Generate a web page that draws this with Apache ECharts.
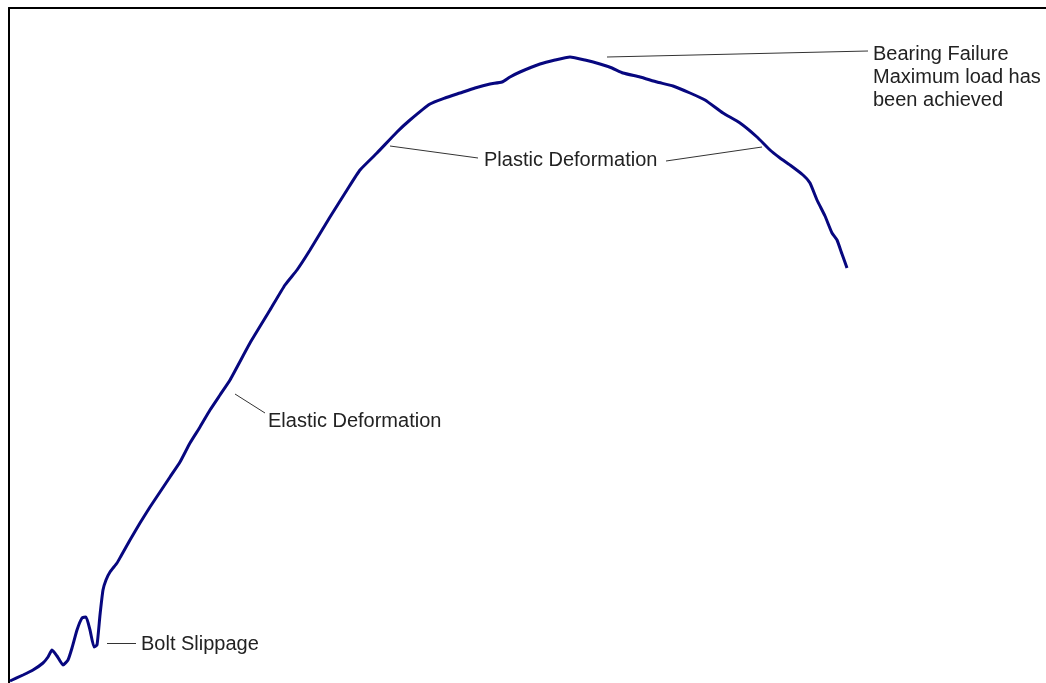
<!DOCTYPE html>
<html>
<head>
<meta charset="utf-8">
<script src="https://cdn.jsdelivr.net/npm/echarts@6/dist/echarts.min.js"></script>
<style>
  html, body { margin: 0; padding: 0; background: #fff; }
  #main { width: 1046px; height: 683px; }
</style>
</head>
<body>
<div id="main"></div>
<script>
// load / deformation trace (arbitrary units)
var deformation = [1, 14, 24, 34, 39, 43, 48, 54, 59, 63, 68, 73, 77, 81, 85, 88, 91, 94, 97, 101,
    108, 112, 121, 131, 141, 151, 161, 171, 181, 191, 201, 211, 221, 241, 261, 276, 288, 301, 321, 338,
    351, 368, 388, 401, 421, 436, 451, 466, 481, 493, 501, 511, 531, 546, 561, 576, 591, 603, 614, 631,
    648, 664, 681, 696, 714, 731, 748, 761, 771, 781, 794, 801, 808, 816, 823, 828, 833, 838]
var load = [2, 8, 13, 20, 26, 33, 27, 18, 23, 35, 53, 65, 66, 53, 36, 38, 68, 93, 103, 111,
    120, 127, 143, 160, 176, 191, 206, 221, 240, 256, 273, 288, 303, 340, 373, 398, 413, 433, 466, 493,
    513, 530, 551, 563, 579, 585, 590, 595, 599, 601, 606, 611, 619, 623, 626, 623, 619, 615, 610, 606,
    601, 597, 590, 583, 570, 560, 546, 533, 525, 518, 508, 500, 483, 467, 450, 443, 429, 415]

// annotations: text anchor + leader lines
var noteTexts = ['Bolt Slippage', 'Elastic Deformation', 'Plastic Deformation',
    'Bearing Failure\nMaximum load has\nbeen achieved']
var notePos = [[132, 39], [259, 262], [475, 523], [864, 606]]
var leaders = [
    [[98, 40], [127, 40]],
    [[226, 289], [256, 270]],
    [[381, 537], [469, 525]],
    [[657, 522], [753, 536]],
    [[598, 626], [859, 632]]
]

var series_data = []
for (var i = 0; i < deformation.length; i++) {
    series_data.push([deformation[i], load[i]])
}

var chart = echarts.init(document.getElementById('main'))

var axisStyle = {
    type: 'value',
    axisLine: { show: true, onZero: false, lineStyle: { color: '#000', width: 2 } },
    axisTick: { show: false },
    axisLabel: { show: false },
    splitLine: { show: false }
}

chart.setOption({
    animation: false,
    grid: { left: 9, top: 8, right: 0, bottom: 0 },
    xAxis: Object.assign({}, axisStyle, { position: 'top', min: 0, max: 1037 }),
    yAxis: Object.assign({}, axisStyle, { min: 0, max: 675 }),
    series: [{
        type: 'line',
        data: series_data,
        symbol: 'none',
        smooth: 0.15,
        lineStyle: { color: '#07077f', width: 3 },
        markLine: {
            silent: true,
            symbol: 'none',
            label: { show: false },
            lineStyle: { color: '#333', width: 1, type: 'solid' },
            data: leaders.map(function(l) {
                return [{ coord: l[0] }, { coord: l[1] }]
            })
        },
        markPoint: {
            silent: true,
            symbolSize: 0,
            data: noteTexts.map(function(t, i) {
                return {
                    coord: notePos[i],
                    label: {
                        show: true,
                        position: 'right',
                        distance: 0,
                        formatter: t,
                        color: '#222',
                        fontFamily: 'Liberation Sans, Arial, sans-serif',
                        fontSize: 20,
                        lineHeight: 23,
                        align: 'left'
                    }
                }
            })
        }
    }]
})
</script>
</body>
</html>
